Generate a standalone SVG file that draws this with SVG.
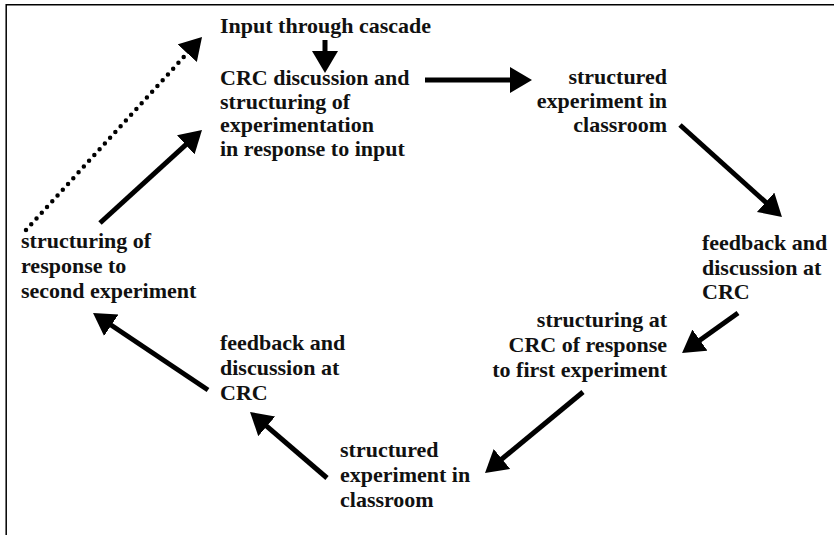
<svg xmlns="http://www.w3.org/2000/svg" width="834" height="535" viewBox="0 0 834 535">
  <defs>
    <style>
      .lbl { font-family: "Liberation Serif", "Times New Roman", serif; font-weight: bold; font-size: 22px; fill: #111; }
      .end { text-anchor: end; }
      .arrow { stroke: #000; stroke-width: 5; fill: none; marker-end: url(#head); }
      .dotted { stroke: #000; stroke-width: 4.5; stroke-linecap: round; stroke-dasharray: 0 7.8; fill: none; marker-end: url(#head); }
    </style>
    <marker id="head" markerUnits="userSpaceOnUse" markerWidth="24" markerHeight="28" refX="4" refY="13" orient="auto">
      <path d="M0,0 L22,13 L0,26 z" fill="#000"/>
    </marker>
  </defs>

  <rect width="834" height="535" fill="#fff"/>
  <!-- frame: top and left edges only -->
  <path d="M6.2,535 V4.8 H834" stroke="#000" stroke-width="1.5" fill="none"/>

  <g id="input">
    <text class="lbl" x="220" y="33">Input through cascade</text>
  </g>
  <g id="crc-discussion">
    <text class="lbl" x="220" y="85">CRC discussion and</text>
    <text class="lbl" x="220" y="108.5">structuring of</text>
    <text class="lbl" x="220" y="132">experimentation</text>
    <text class="lbl" x="220" y="155.5">in response to input</text>
  </g>
  <g id="experiment-1">
    <text class="lbl end" x="667" y="84">structured</text>
    <text class="lbl end" x="667" y="108">experiment in</text>
    <text class="lbl end" x="667" y="132">classroom</text>
  </g>
  <g id="feedback-1">
    <text class="lbl" x="702" y="250">feedback and</text>
    <text class="lbl" x="702" y="274.5">discussion at</text>
    <text class="lbl" x="702" y="299">CRC</text>
  </g>
  <g id="structuring-1">
    <text class="lbl end" x="667" y="327">structuring at</text>
    <text class="lbl end" x="667" y="352">CRC of response</text>
    <text class="lbl end" x="667" y="377">to first experiment</text>
  </g>
  <g id="experiment-2">
    <text class="lbl" x="340" y="457">structured</text>
    <text class="lbl" x="340" y="482">experiment in</text>
    <text class="lbl" x="340" y="507">classroom</text>
  </g>
  <g id="feedback-2">
    <text class="lbl" x="220" y="350">feedback and</text>
    <text class="lbl" x="220" y="375">discussion at</text>
    <text class="lbl" x="220" y="400">CRC</text>
  </g>
  <g id="structuring-2">
    <text class="lbl" x="21" y="248">structuring of</text>
    <text class="lbl" x="21" y="273">response to</text>
    <text class="lbl" x="21" y="298">second experiment</text>
  </g>

  <g id="connectors">
    <line class="arrow" x1="325" y1="40" x2="325" y2="55"/>
    <line class="arrow" x1="425" y1="80" x2="514" y2="80"/>
    <line class="arrow" x1="680" y1="125" x2="768.6" y2="204.9"/>
    <line class="arrow" x1="738" y1="313" x2="696.7" y2="342.5"/>
    <line class="arrow" x1="583" y1="392" x2="498.9" y2="461.5"/>
    <line class="arrow" x1="327" y1="478" x2="263.7" y2="423.7"/>
    <line class="arrow" x1="208" y1="390" x2="108" y2="323"/>
    <line class="arrow" x1="100" y1="223" x2="188.7" y2="142.1"/>
    <line class="dotted" x1="26" y1="230" x2="189.9" y2="50.3"/>
  </g>
</svg>
